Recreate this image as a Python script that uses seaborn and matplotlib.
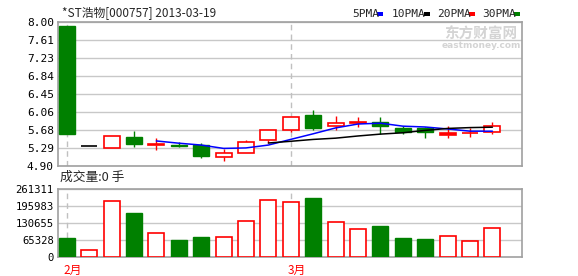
import matplotlib
matplotlib.use("Agg")
import matplotlib.pyplot as plt
from matplotlib.patches import Rectangle
import seaborn as sns
import pandas as pd

# ---------------- data ----------------
title = "*ST浩物[000757] 2013-03-19"
opens = [7.91, 5.32, 5.29, 5.52, 5.36, 5.35, 5.35, 5.10, 5.19, 5.45,
         5.67, 6.00, 5.77, 5.82, 5.84, 5.71, 5.71, 5.57, 5.60, 5.62]
highs = [7.91, 5.32, 5.55, 5.65, 5.50, 5.42, 5.40, 5.26, 5.45, 5.68,
         5.95, 6.10, 5.97, 5.95, 5.95, 5.77, 5.73, 5.75, 5.71, 5.84]
lows = [5.58, 5.32, 5.29, 5.31, 5.24, 5.30, 5.07, 5.01, 5.17, 5.40,
        5.63, 5.67, 5.67, 5.73, 5.58, 5.59, 5.51, 5.51, 5.52, 5.59]
closes = [5.58, 5.32, 5.55, 5.37, 5.37, 5.34, 5.12, 5.19, 5.42, 5.68,
          5.95, 5.72, 5.82, 5.84, 5.77, 5.63, 5.63, 5.61, 5.60, 5.77]
volumes = [73000, 26900, 215200, 169100, 91000, 66500, 76900, 75600, 138300, 219000,
           211400, 226700, 134500, 107600, 119100, 73000, 69200, 80700, 61500, 110300]
ma5 = [None, None, None, None, 5.438, 5.390, 5.350, 5.278, 5.288, 5.350,
       5.472, 5.592, 5.718, 5.802, 5.820, 5.756, 5.738, 5.696, 5.648, 5.648]
ma10 = [None] * 9 + [5.394, 5.431, 5.471, 5.498, 5.545, 5.585, 5.614, 5.665, 5.707, 5.725, 5.734]
price_ticks = ["4.90", "5.29", "5.68", "6.06", "6.45", "6.84", "7.23", "7.61", "8.00"]
volume_ticks = [0, 65328, 130655, 195983, 261311]
month_labels = ["2月", "3月"]
month_pos = [0, 10]
legend_labels = ["5PMA", "10PMA", "20PMA", "30PMA"]
legend_colors = ["#0000ff", "#000000", "#ff0000", "#008000"]
volume_label = "成交量:0 手"

# ---------------- style ----------------
sns.set_style("white")
plt.rcParams["font.family"] = ["DejaVu Sans Mono", "Noto Sans CJK SC"]

RED = "#ff0000"
GREEN = "#008000"
GRID = "#c8c8c8"
SPINE = "#a0a0a0"

W, H = 578, 276
fig = plt.figure(figsize=(W / 100, H / 100), dpi=100)
L, R = 58 / W, 522 / W
axp = fig.add_axes([L, 1 - 166 / H, R - L, (166 - 21.7) / H])
axv = fig.add_axes([L, 1 - 257 / H, R - L, (257 - 189) / H])

n = len(closes)
idx = list(range(n))
xlim = (-0.39, 20.32)
bw = 0.71

# ---------------- price panel ----------------
pvals = [float(t) for t in price_ticks]
for y in pvals:
    axp.axhline(y, color=GRID, lw=1, zorder=0)
for m in month_pos:
    axp.axvline(m, color="#c0c0c0", lw=1, ls=(0, (4, 3)), zorder=0)

for i in idx:
    o, h, l, c = opens[i], highs[i], lows[i], closes[i]
    if abs(o - c) < 1e-9:
        col = "#000000" if (h == l) else RED
        axp.vlines(i, l, h, color=col, lw=1, zorder=2)
        axp.hlines(c, i - bw / 2, i + bw / 2, color=col, lw=1.2, zorder=3)
        continue
    if c > o:
        top, bot = c, o
        axp.vlines(i, top, h, color=RED, lw=1, zorder=2)
        axp.vlines(i, l, bot, color=RED, lw=1, zorder=2)
        face = RED if (top - bot) < 0.045 else "white"
        axp.add_patch(Rectangle((i - bw / 2, bot), bw, top - bot, facecolor=face,
                                edgecolor=RED, lw=1.2, zorder=3))
    else:
        axp.vlines(i, l, h, color=GREEN, lw=1, zorder=2)
        axp.add_patch(Rectangle((i - bw / 2, c), bw, o - c, facecolor=GREEN,
                                edgecolor=GREEN, lw=1, zorder=3))

ma_df = pd.DataFrame({"x": idx, "ma5": ma5, "ma10": ma10})
sns.lineplot(data=ma_df.dropna(subset=["ma5"]), x="x", y="ma5", ax=axp,
             color="#0000ff", lw=1.1, zorder=4)
sns.lineplot(data=ma_df.dropna(subset=["ma10"]), x="x", y="ma10", ax=axp,
             color="#000000", lw=1.1, zorder=4)

axp.set_xlim(*xlim)
axp.set_ylim(4.90, 8.00)
axp.set_yticks(pvals)
axp.set_yticklabels(price_ticks, fontsize=8)
axp.set_xticks([])
axp.set_xlabel("")
axp.set_ylabel("")

# ---------------- volume panel ----------------
for y in volume_ticks[1:]:
    axv.axhline(y, color=GRID, lw=1, zorder=0)
for m in month_pos:
    axv.axvline(m, color="#c0c0c0", lw=1, ls=(0, (4, 3)), zorder=0)

vol_df = pd.DataFrame({"x": idx, "v": volumes})
sns.barplot(data=vol_df, x="x", y="v", native_scale=True, width=bw, ax=axv,
            color=GREEN, saturation=1, zorder=3)
for i, p in enumerate(axv.patches):
    if opens[i] > closes[i]:
        p.set_facecolor(GREEN)
        p.set_edgecolor(GREEN)
    else:
        p.set_facecolor("white")
        p.set_edgecolor(RED)
        p.set_linewidth(1.2)

axv.set_xlim(*xlim)
axv.set_ylim(0, volume_ticks[-1])
axv.set_yticks(volume_ticks)
axv.set_yticklabels([str(v) for v in volume_ticks], fontsize=7.6)
axv.set_xticks([])
axv.set_xlabel("")
axv.set_ylabel("")

for ax in (axp, axv):
    for s in ax.spines.values():
        s.set_visible(True)
        s.set_color(SPINE)
        s.set_linewidth(1.2)
    ax.tick_params(axis="y", length=0, pad=3, colors="black")
    ax.tick_params(axis="x", length=0)

# month labels
for lab, m in zip(month_labels, month_pos):
    axv.text(m - 0.15, -0.1, lab, transform=axv.get_xaxis_transform(),
             color=RED, fontsize=8.5, ha="left", va="top",
             family=["Noto Sans CJK SC", "DejaVu Sans"])

# ---------------- texts ----------------
fig.text(62 / W, 1 - 14 / H, title, fontsize=8.5, va="center", ha="left",
         family=["Noto Sans CJK SC", "DejaVu Sans"])
fig.text(60 / W, 1 - 177 / H, volume_label, fontsize=9.2, va="center", ha="left",
         family=["Noto Sans CJK SC", "DejaVu Sans"])

lx = [352, 392, 437, 482]
for x0, lab in zip(lx, legend_labels):
    fig.text(x0 / W, 1 - 14 / H, lab, fontsize=8, va="center", ha="left",
             family=["DejaVu Sans Mono"])
sq_x = [377, 424, 469, 514]
for x0, col in zip(sq_x, legend_colors):
    fig.patches.append(Rectangle((x0 / W, 1 - 15.5 / H), 6 / W, 3 / H,
                                 transform=fig.transFigure, facecolor=col,
                                 edgecolor="none"))

# watermark
fig.text(481 / W, 1 - 34 / H, "东方财富网", fontsize=10.5, fontweight="bold",
         color="#d4d4d4", ha="center", va="center",
         family=["Noto Sans CJK SC", "DejaVu Sans"])
fig.text(481 / W, 1 - 46 / H, "eastmoney.com", fontsize=6.5, fontweight="bold",
         color="#d4d4d4", ha="center", va="center", family=["DejaVu Sans"])

fig.savefig("out.png", dpi=100)
